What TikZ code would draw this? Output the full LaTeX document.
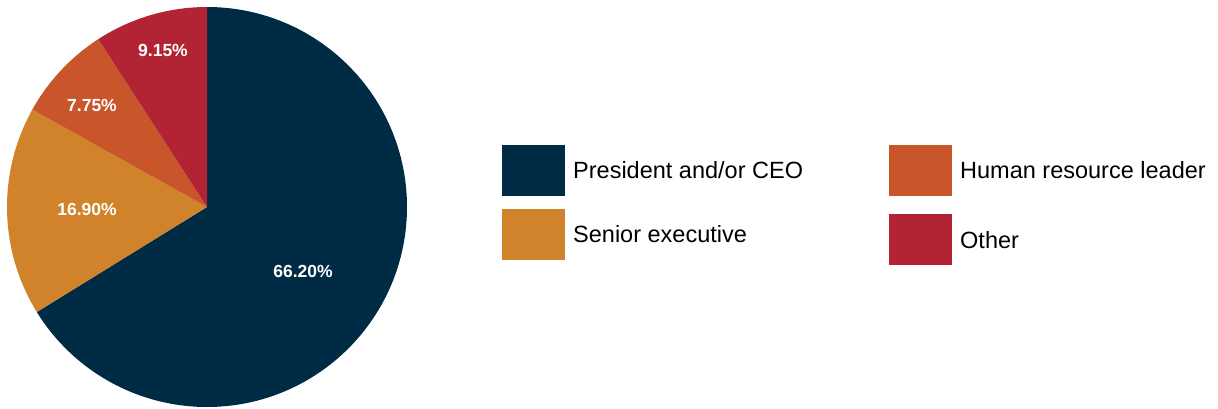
\documentclass[tikz,border=0pt]{standalone}
\usepackage{fontspec}
\setmainfont{Liberation Sans}
\usepackage{xcolor}
\usepackage{tikz}
\usetikzlibrary{positioning}
\definecolor{ceo}{HTML}{002B45}
\definecolor{senior}{HTML}{D0832A}
\definecolor{hrlead}{HTML}{C9552B}
\definecolor{other}{HTML}{B22433}

\begin{document}
\begin{tikzpicture}[
    x=1pt, y=1pt,
    pct/.style={text=white, font=\fontsize{17.5}{19}\selectfont\bfseries, inner sep=0pt},
    key/.style={minimum width=63pt, minimum height=51pt, inner sep=0pt},
    keytext/.style={anchor=base west, inner sep=0pt, font=\fontsize{23.5}{27}\selectfont}
  ]
  \useasboundingbox (0,0) rectangle (1218,408);
  \coordinate (c) at (207,201);

  % slices, clockwise from the top
  \foreach \from/\to/\col in {90/-148.32/ceo, -148.32/-209.16/senior, -209.16/-237.06/hrlead, -237.06/-270/other}
    \fill[\col] (c) -- ++(\from:200) arc[start angle=\from, end angle=\to, radius=200] -- cycle;

  \node[pct] (pceo) at (303,137) {66.20\%};
  \node[pct] (psenior) at (87,199) {16.90\%};
  \node[pct] (phr) at (92,303) {7.75\%};
  \node[pct] (pother) at (163,358) {9.15\%};

  % Legend
  \node[key, fill=ceo] (kceo) at (533.5,237.5) {};
  \node[key, fill=senior] (ksenior) at (533.5,174) {};
  \node[key, fill=hrlead] (khr) at (920.5,237.5) {};
  \node[key, fill=other] (kother) at (920.5,168.5) {};
  \node[keytext] (tceo) at (573,230) {President and/or CEO};
  \node[keytext] (tsenior) at (573,166) {Senior executive};
  \node[keytext] (thr) at (960,230) {Human resource leader};
  \node[keytext] (tother) at (960,160) {Other};
\end{tikzpicture}
\end{document}
